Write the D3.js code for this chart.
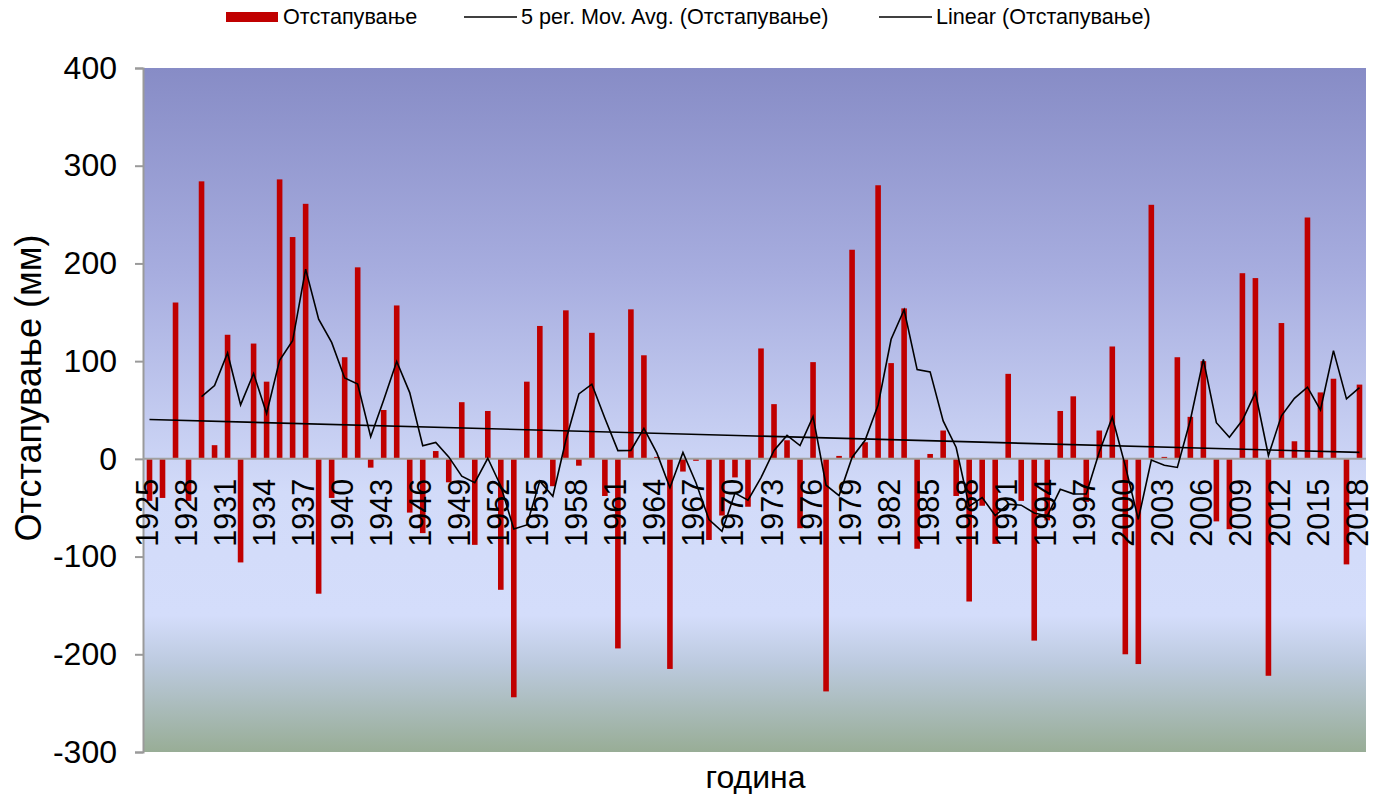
<!DOCTYPE html>
<html>
<head>
<meta charset="utf-8">
<script src="https://cdn.jsdelivr.net/npm/d3@7"></script>
<style>
  html, body { margin: 0; padding: 0; background: #ffffff; }
  svg { display: block; font-family: "Liberation Sans", Arial, sans-serif; }
</style>
</head>
<body>
<svg id="chart" width="1374" height="794"></svg>
<script>
// Годишно отстапување на врнежите (мм), 1925–2018
const years = d3.range(1925, 2019);
const deviation = [
  -43, -40, 160, -43, 284, 14, 127, -106, 118, 79,
  286, 227, 261, -138, -40, 104, 196, -9, 50, 157,
  -55, -76, 8, -24, 58, -88, 49, -134, -244, 79,
  136, -28, 152, -7, 129, -38, -194, 153, 106, 2,
  -215, -13, -2, -83, -58, -19, -49, 113, 56, 19,
  -71, 99, -238, 3, 214, 17, 280, 98, 154, -92,
  5, 29, -38, -146, -48, -87, 87, -43, -186, -63,
  49, 64, -44, 29, 115, -200, -210, 260, 2, 104,
  43, 100, -64, -72, 190, 185, -222, 139, 18, 247,
  68, 82, -108, 76
];
const yearTicks = [1925, 1928, 1931, 1934, 1937, 1940, 1943, 1946, 1949, 1952,
  1955, 1958, 1961, 1964, 1967, 1970, 1973, 1976, 1979, 1982, 1985, 1988,
  1991, 1994, 1997, 2000, 2003, 2006, 2009, 2012, 2015, 2018];
const valueTicks = [-300, -200, -100, 0, 100, 200, 300, 400];
const legendLabels = ["Отстапување", "5 per. Mov. Avg. (Отстапување)", "Linear (Отстапување)"];
const yTitle = "Отстапување (мм)";
const xTitle = "година";
const period = 5;

const data = years.map((yr, i) => ({ year: yr, value: deviation[i] }));

// 5-period trailing moving average
const movAvg = data.slice(period - 1).map((d, k) => ({
  year: d.year,
  value: d3.mean(data.slice(k, k + period), e => e.value)
}));

// least-squares linear trend over the category index
const n = data.length;
const xs = data.map((d, i) => i + 1);
const mx = d3.mean(xs), my = d3.mean(data, d => d.value);
const slope = d3.sum(data, (d, i) => (xs[i] - mx) * (d.value - my)) / d3.sum(xs, v => (v - mx) * (v - mx));
const icpt = my - slope * mx;
const trend = [data[0], data[n - 1]].map(d => ({ year: d.year, value: icpt + slope * (years.indexOf(d.year) + 1) }));

const plot = { left: 143, right: 1366, top: 68, bottom: 752 };
const svg = d3.select("#chart");

const x = d3.scaleBand().domain(years).range([plot.left, plot.right]).paddingInner(0.57).paddingOuter(0.285);
const y = d3.scaleLinear().domain([-300, 400]).range([plot.bottom, plot.top]);
const cx = yr => x(yr) + x.bandwidth() / 2;

// plot background gradient
const defs = svg.append("defs");
const grad = defs.append("linearGradient").attr("id", "bg").attr("x1", 0).attr("y1", 0).attr("x2", 0).attr("y2", 1);
[[0, "#878cc6"], [0.3, "#a7addf"], [0.62, "#d2dbf9"], [0.8, "#d4ddfb"], [0.87, "#bccadf"], [1, "#98ad96"]]
  .forEach(([o, c]) => grad.append("stop").attr("offset", o).attr("stop-color", c));

svg.append("rect")
  .attr("x", plot.left).attr("y", plot.top)
  .attr("width", plot.right - plot.left).attr("height", plot.bottom - plot.top)
  .attr("fill", "url(#bg)");

// value axis
const yAxis = svg.append("g").attr("transform", `translate(${plot.left},0)`)
  .call(d3.axisLeft(y).tickValues(valueTicks).tickSize(8).tickPadding(18).tickFormat(d => String(d)));
yAxis.select(".domain").attr("stroke", "#9a9a9a").attr("stroke-width", 2);
yAxis.selectAll(".tick line").attr("stroke", "#9a9a9a").attr("stroke-width", 2);
yAxis.selectAll(".tick text").attr("font-size", 32).attr("fill", "#000")
  .attr("font-family", "'Liberation Sans', Arial, sans-serif");

// bars
svg.append("g").selectAll("rect").data(data).join("rect")
  .attr("x", d => x(d.year))
  .attr("width", x.bandwidth())
  .attr("y", d => y(Math.max(0, d.value)))
  .attr("height", d => Math.abs(y(d.value) - y(0)))
  .attr("fill", "#c00000");

// zero line
svg.append("line")
  .attr("x1", plot.left).attr("x2", plot.right)
  .attr("y1", y(0)).attr("y2", y(0))
  .attr("stroke", "#a0a0a0").attr("stroke-width", 2);

// category labels at the zero line
svg.append("g").selectAll("text").data(yearTicks).join("text")
  .attr("transform", d => `translate(${cx(d) + 8.5},${y(0) + 20}) rotate(-90)`)
  .attr("text-anchor", "end")
  .attr("font-size", 30.5)
  .attr("fill", "#000")
  .text(d => d);

// trend lines
const line = d3.line().x(d => cx(d.year)).y(d => y(d.value));
svg.append("path").datum(trend).attr("d", line)
  .attr("fill", "none").attr("stroke", "#000").attr("stroke-width", 1.6);
svg.append("path").datum(movAvg).attr("d", line)
  .attr("fill", "none").attr("stroke", "#000").attr("stroke-width", 1.6).attr("stroke-linejoin", "miter");

// axis titles
svg.append("text")
  .attr("transform", `translate(41,${(plot.top + plot.bottom) / 2 - 22}) rotate(-90)`)
  .attr("text-anchor", "middle").attr("font-size", 36).attr("fill", "#000")
  .text(yTitle);
svg.append("text")
  .attr("x", (plot.left + plot.right) / 2 + 1).attr("y", 788)
  .attr("text-anchor", "middle").attr("font-size", 32).attr("fill", "#000")
  .text(xTitle);

// legend
const lg = svg.append("g").attr("font-size", 21.6);
const legendX = [226, 464, 879];
lg.append("rect").attr("x", legendX[0]).attr("y", 12).attr("width", 52).attr("height", 10).attr("fill", "#c00000");
[1, 2].forEach(k => lg.append("line")
  .attr("x1", legendX[k]).attr("x2", legendX[k] + 53).attr("y1", 17).attr("y2", 17)
  .attr("stroke", "#000").attr("stroke-width", 1.6));
legendLabels.forEach((t, k) => lg.append("text")
  .attr("x", legendX[k] + 57).attr("y", 24).attr("fill", "#000").text(t));
</script>
</body>
</html>
